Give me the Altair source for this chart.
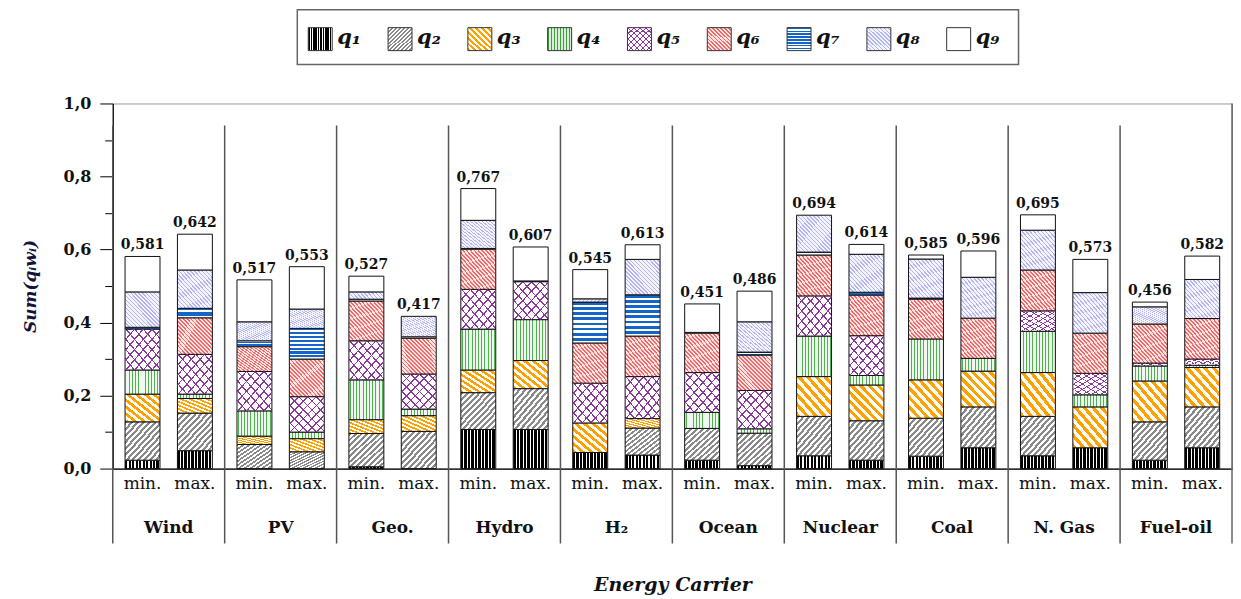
import altair as alt
import pandas as pd

carriers = ["Wind", "PV", "Geo.", "Hydro", "H₂", "Ocean", "Nuclear", "Coal", "N. Gas", "Fuel-oil"]
types = ["min.", "max."]
qs = ["q1", "q2", "q3", "q4", "q5", "q6", "q7", "q8", "q9"]
q_labels = ["q₁", "q₂", "q₃", "q₄", "q₅", "q₆", "q₇", "q₈", "q₉"]

# values per bar: Wind min, Wind max, PV min, PV max, ... Fuel-oil min, Fuel-oil max
q1 = [0.023, 0.049, 0.000, 0.000, 0.005, 0.000, 0.107, 0.107, 0.044, 0.037,
      0.023, 0.008, 0.035, 0.023, 0.034, 0.057, 0.035, 0.057, 0.023, 0.057]
q2 = [0.105, 0.103, 0.066, 0.046, 0.091, 0.102, 0.101, 0.112, 0.000, 0.074,
      0.087, 0.089, 0.108, 0.108, 0.104, 0.112, 0.108, 0.000, 0.105, 0.112]
q3 = [0.076, 0.040, 0.023, 0.036, 0.038, 0.043, 0.062, 0.077, 0.081, 0.026,
      0.000, 0.000, 0.109, 0.098, 0.105, 0.098, 0.120, 0.112, 0.112, 0.108]
q4 = [0.066, 0.012, 0.069, 0.018, 0.109, 0.018, 0.112, 0.112, 0.000, 0.000,
      0.044, 0.012, 0.111, 0.026, 0.112, 0.035, 0.113, 0.033, 0.041, 0.006]
q5 = [0.112, 0.109, 0.108, 0.097, 0.107, 0.096, 0.109, 0.104, 0.109, 0.115,
      0.109, 0.105, 0.110, 0.109, 0.000, 0.000, 0.056, 0.059, 0.008, 0.017]
q6 = [0.000, 0.100, 0.068, 0.103, 0.109, 0.098, 0.110, 0.000, 0.110, 0.111,
      0.108, 0.097, 0.112, 0.111, 0.109, 0.110, 0.112, 0.110, 0.107, 0.111]
q7 = [0.005, 0.026, 0.016, 0.084, 0.005, 0.004, 0.002, 0.002, 0.112, 0.113,
      0.002, 0.008, 0.008, 0.008, 0.003, 0.000, 0.000, 0.000, 0.000, 0.000]
q8 = [0.097, 0.105, 0.052, 0.053, 0.020, 0.056, 0.077, 0.000, 0.009, 0.097,
      0.000, 0.083, 0.101, 0.104, 0.107, 0.112, 0.109, 0.111, 0.047, 0.107]
q9 = [0.097, 0.098, 0.115, 0.116, 0.043, 0.000, 0.087, 0.093, 0.080, 0.040,
      0.078, 0.084, 0.000, 0.027, 0.011, 0.072, 0.042, 0.091, 0.013, 0.064]
totals = [0.581, 0.642, 0.517, 0.553, 0.527, 0.417, 0.767, 0.607, 0.545, 0.613,
          0.451, 0.486, 0.694, 0.614, 0.585, 0.596, 0.695, 0.573, 0.456, 0.582]

series = [q1, q2, q3, q4, q5, q6, q7, q8, q9]

rows, tot_rows = [], []
for ci, c in enumerate(carriers):
    for ti, t in enumerate(types):
        idx = ci * 2 + ti
        tot_rows.append({"carrier": c, "type": t, "total": totals[idx]})
        for k, q in enumerate(qs):
            rows.append({"carrier": c, "type": t, "q": q, "qi": k, "value": series[k][idx]})
df = pd.DataFrame(rows)
df_tot = pd.DataFrame(tot_rows)
df_leg = pd.DataFrame({"q": qs, "lab": q_labels})


def stripes(c1, c2, n, frac, x1, y1, x2, y2):
    stops = []
    for k in range(n):
        a, b, e = k / n, (k + frac) / n, (k + 1) / n
        stops += [{"offset": a, "color": c1}, {"offset": b, "color": c1},
                  {"offset": b, "color": c2}, {"offset": e, "color": c2}]
    return {"gradient": "linear", "x1": x1, "y1": y1, "x2": x2, "y2": y2, "stops": stops}


VERT = (0, 0, 1, 0)
HORZ = (0, 0, 0, 1)
SLASH = (0, 0, 1, 1)      # lines like "/"
BSLASH = (0, 1, 1, 0)     # lines like "\"

fills = {
    "q1": stripes("#000000", "#ffffff", 10, 0.68, *VERT),
    "q2": stripes("#8a8a8a", "#ffffff", 12, 0.5, *SLASH),
    "q3": stripes("#ffa200", "#ffffff", 8, 0.5, *BSLASH),
    "q4": stripes("#52b052", "#eef8ee", 24, 0.3, *VERT),
    "q5": stripes("#8b3a9b", "#ffffff", 8, 0.18, *BSLASH),
    "q6": stripes("#f06a6a", "#ffe4e4", 18, 0.45, *BSLASH),
    "q7": stripes("#1565c8", "#ffffff", 8, 0.55, *HORZ),
    "q8": stripes("#b4b4ec", "#f4f4ff", 18, 0.35, *BSLASH),
    "q9": "#ffffff",
}
leg_fills = dict(fills)
leg_fills["q4"] = stripes("#3f9f3f", "#d8eed8", 8, 0.5, *VERT)
leg_fills["q6"] = stripes("#f06a6a", "#ffe4e4", 12, 0.45, *BSLASH)
leg_fills["q8"] = stripes("#b4b4ec", "#f4f4ff", 12, 0.4, *BSLASH)
q5_over = stripes("#8b3a9b", "rgba(255,255,255,0)", 8, 0.18, *SLASH)

SERIF = "DejaVu Serif"
W, H = 1122, 366

xaxis = alt.Axis(title="Energy Carrier", labelFont=SERIF, labelFontSize=17, labelFontWeight="bold",
                 labelColor="#111", labelAngle=0, labelPadding=51, ticks=False, tickSize=0,
                 domainColor="#000", domainWidth=1.2, titleFont=SERIF, titleFontSize=19,
                 titleFontStyle="italic", titleFontWeight="bold", titleColor="#111", titlePadding=40)
xscale = alt.Scale(domain=carriers, paddingInner=0, paddingOuter=0)
X = alt.X("carrier:N", sort=carriers, scale=xscale, axis=xaxis)
XO = alt.XOffset("type:N", sort=types, scale=alt.Scale(domain=types, paddingInner=0.333, paddingOuter=0.235))

yaxis = alt.Axis(title="Sum(qᵢwᵢ)", values=[round(i * 0.1, 1) for i in range(11)],
                 labelExpr="round(datum.value*10) % 2 == 0 ? replace(format(datum.value, '.1f'), '.', ',') : ''",
                 tickSize={"condition": {"test": "round(datum.value*10) % 2 == 1", "value": 8}, "value": 13},
                 labelFont=SERIF, labelFontSize=16, labelFontWeight="bold", labelColor="#111",
                 labelPadding=9, tickColor="#000", domainColor="#000", domainWidth=1.2, grid=False,
                 titleFont="DejaVu Serif, DejaVu Sans", titleFontSize=17, titleFontStyle="italic",
                 titleFontWeight="bold", titleColor="#14143a", titlePadding=24)
yscale = alt.Scale(domain=[0, 1], nice=False, zero=True)

base = alt.Chart(df).transform_stack(
    stack="value", groupby=["carrier", "type"],
    sort=[alt.SortField("qi", order="ascending")], as_=["y0", "y1"])

bar_layers = []
for q in qs:
    bar_layers.append(
        base.transform_filter(f"datum.q == '{q}' && datum.value > 0")
        .mark_bar(fill=fills[q], stroke="#111", strokeWidth=1)
        .encode(x=X, xOffset=XO, y=alt.Y("y0:Q", scale=yscale, axis=yaxis), y2="y1:Q")
    )
overlay = (base.transform_filter("datum.q == 'q5' && datum.value > 0")
           .mark_bar(fill=q5_over, strokeWidth=0)
           .encode(x=X, xOffset=XO, y=alt.Y("y0:Q", scale=yscale, axis=yaxis), y2="y1:Q"))

seps = alt.Chart(pd.DataFrame({"carrier": carriers})).mark_rule(color="#555", strokeWidth=1.5).encode(
    x=alt.X("carrier:N", sort=carriers, scale=xscale, axis=xaxis, bandPosition=0),
    y=alt.value(22), y2=alt.value(441))
right_edge = alt.Chart(pd.DataFrame({"a": [0]})).mark_rule(color="#666", strokeWidth=1.5).encode(
    x=alt.value(W), y=alt.value(0), y2=alt.value(441))

tot_text = alt.Chart(df_tot).transform_calculate(
    lbl="replace(format(datum.total, '.3f'), '.', ',')"
).mark_text(font=SERIF, fontSize=14, fontWeight="bold", color="#111", baseline="alphabetic", dy=-7).encode(
    x=X, xOffset=XO, y=alt.Y("total:Q", scale=yscale, axis=yaxis), text="lbl:N")

mm_text = alt.Chart(df_tot).mark_text(font=SERIF, fontSize=17, color="#111", baseline="alphabetic").encode(
    x=X, xOffset=XO, y=alt.value(386), text="type:N")

bars_group = alt.layer(seps, right_edge, *bar_layers, overlay, tot_text, mm_text)

lscale = alt.Scale(type="point", domain=qs, range=[208, 848], padding=0)
LX = alt.X("q:N", scale=lscale, axis=None)
box = alt.Chart(pd.DataFrame({"a": [0]})).mark_rect(fill="white", stroke="#666", strokeWidth=1.5).encode(
    x=alt.value(185), x2=alt.value(908), y=alt.value(-94), y2=alt.value(-39))
leg_layers = []
for q in qs:
    leg_layers.append(
        alt.Chart(df_leg).transform_filter(f"datum.q == '{q}'")
        .mark_bar(fill=leg_fills[q], stroke="#333", strokeWidth=1, width=24)
        .encode(x=LX, y=alt.value(-76), y2=alt.value(-53)))
leg_over = (alt.Chart(df_leg).transform_filter("datum.q == 'q5'")
            .mark_bar(fill=q5_over, strokeWidth=0, width=24)
            .encode(x=LX, y=alt.value(-76), y2=alt.value(-53)))
leg_text = alt.Chart(df_leg).mark_text(font=SERIF, fontSize=21, fontWeight="bold", fontStyle="italic",
                                       color="#111", align="left", baseline="middle", dx=17).encode(
    x=LX, y=alt.value(-66), text="lab:N")
legend_group = alt.layer(box, *leg_layers, leg_over, leg_text)

chart = alt.layer(bars_group, legend_group).resolve_scale(x="independent").properties(
    width=W, height=H, padding={"left": 13, "top": 0, "right": 0, "bottom": 0}, background="white"
).configure_view(stroke="#999", strokeWidth=1)

chart.save("out.html", embed_options={"renderer": "svg", "actions": False})
